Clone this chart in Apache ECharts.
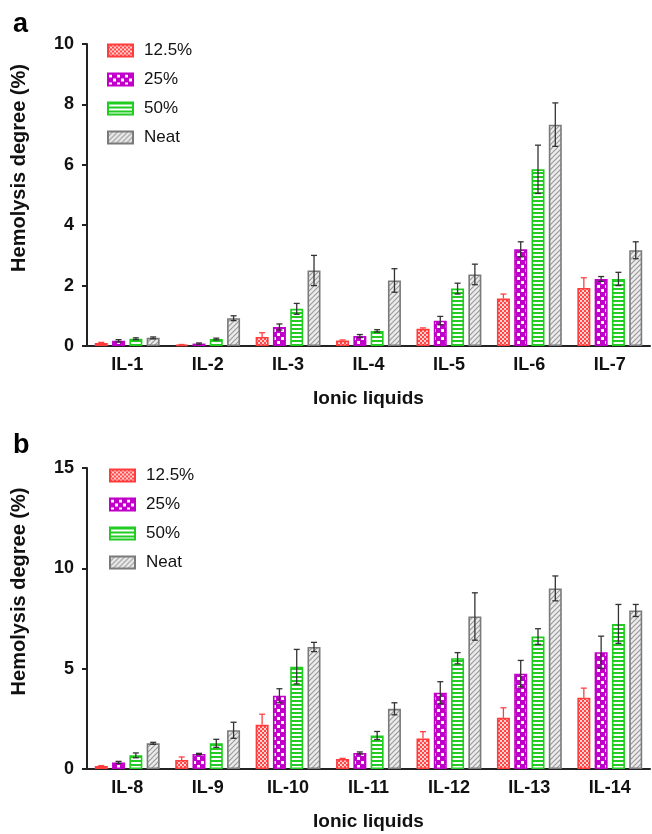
<!DOCTYPE html>
<html>
<head>
<meta charset="utf-8">
<style>
  html, body { margin: 0; padding: 0; background: #fff; }
  #chart { width: 652px; height: 834px; }
</style>
<script src="https://cdn.jsdelivr.net/npm/echarts@6/dist/echarts.min.js"></script>
</head>
<body>
<div id="chart"></div>
<script>
'use strict';

var seriesNames = ['12.5%', '25%', '50%', 'Neat'];

// panel a
var aCategories = ['IL-1', 'IL-2', 'IL-3', 'IL-4', 'IL-5', 'IL-6', 'IL-7'];
var a125 = [0.10, 0.04, 0.30, 0.18, 0.57, 1.57, 1.92];
var a25 = [0.17, 0.08, 0.63, 0.33, 0.84, 3.20, 2.22];
var a50 = [0.24, 0.23, 1.23, 0.50, 1.90, 5.85, 2.22];
var aNeat = [0.27, 0.92, 2.50, 2.17, 2.37, 7.33, 3.17];
var aErr125 = [0.02, 0.01, 0.14, 0.02, 0.03, 0.15, 0.34];
var aErr25 = [0.04, 0.02, 0.10, 0.05, 0.14, 0.25, 0.08];
var aErr50 = [0.03, 0.03, 0.18, 0.04, 0.18, 0.80, 0.22];
var aErrNeat = [0.03, 0.08, 0.50, 0.39, 0.34, 0.72, 0.28];

// panel b
var bCategories = ['IL-8', 'IL-9', 'IL-10', 'IL-11', 'IL-12', 'IL-13', 'IL-14'];
var b125 = [0.15, 0.45, 2.20, 0.50, 1.52, 2.55, 3.55];
var b25 = [0.33, 0.75, 3.65, 0.80, 3.80, 4.75, 5.82];
var b50 = [0.68, 1.28, 5.10, 1.67, 5.52, 6.60, 7.23];
var bNeat = [1.28, 1.93, 6.08, 3.00, 7.60, 9.00, 7.90];
var bErr125 = [0.02, 0.15, 0.53, 0.03, 0.34, 0.50, 0.48];
var bErr25 = [0.05, 0.03, 0.35, 0.05, 0.55, 0.66, 0.80];
var bErr50 = [0.12, 0.20, 0.86, 0.20, 0.28, 0.39, 0.97];
var bErrNeat = [0.05, 0.40, 0.23, 0.30, 1.18, 0.62, 0.30];

var FONT = '"Liberation Sans", Arial, sans-serif';
var BAR_W = 13;
var BAR_STEP = 17.3;

var lineColors = ['#ff3b3b', '#c000c8', '#1fcc1f', '#7a7a7a'];

function makePattern(kind) {
  var c = document.createElement('canvas');
  var ctx;
  if (kind === 0) {
    // fine red checker
    c.width = 4; c.height = 4;
    ctx = c.getContext('2d');
    ctx.fillStyle = '#ff4545';
    ctx.fillRect(0, 0, 4, 4);
    ctx.fillStyle = '#ffd0d0';
    ctx.fillRect(0, 0, 2, 2);
    ctx.fillRect(2, 2, 2, 2);
  } else if (kind === 1) {
    // big purple checker
    c.width = 8; c.height = 8;
    ctx = c.getContext('2d');
    ctx.fillStyle = '#c000c8';
    ctx.fillRect(0, 0, 8, 8);
    ctx.fillStyle = '#ffffff';
    ctx.fillRect(1, 1, 3, 3);
    ctx.fillRect(5, 5, 3, 3);
  } else if (kind === 2) {
    // horizontal green stripes
    c.width = 4; c.height = 4;
    ctx = c.getContext('2d');
    ctx.fillStyle = '#ffffff';
    ctx.fillRect(0, 0, 4, 4);
    ctx.fillStyle = '#22cc22';
    ctx.fillRect(0, 0, 4, 2);
  } else {
    // grey diagonal hatch
    c.width = 5; c.height = 5;
    ctx = c.getContext('2d');
    ctx.fillStyle = '#ececec';
    ctx.fillRect(0, 0, 5, 5);
    ctx.strokeStyle = '#9a9a9a';
    ctx.lineWidth = 1.2;
    ctx.beginPath();
    ctx.moveTo(-1, 6); ctx.lineTo(6, -1);
    ctx.moveTo(-1, 1); ctx.lineTo(1, -1);
    ctx.moveTo(4, 6); ctx.lineTo(6, 4);
    ctx.stroke();
  }
  return { image: c, repeat: 'repeat' };
}

var patterns = [makePattern(0), makePattern(1), makePattern(2), makePattern(3)];

function errorBar(idx) {
  return function (params, api) {
    var cat = api.value(0);
    var v = api.value(1);
    var e = api.value(2);
    var x = api.coord([cat, 0])[0] + (idx - 1.5) * BAR_STEP;
    var yTop = api.coord([cat, v + e])[1];
    var yBot = api.coord([cat, idx === 0 ? v : v - e])[1];
    var color = idx === 0 ? '#ff4040' : '#333';
    var style = { stroke: color, lineWidth: 1.3 };
    var children = [
      { type: 'line', shape: { x1: x, y1: yTop, x2: x, y2: yBot }, style: style },
      { type: 'line', shape: { x1: x - 3, y1: yTop, x2: x + 3, y2: yTop }, style: style },
    ];
    if (idx !== 0) {
      children.push({ type: 'line', shape: { x1: x - 3, y1: yBot, x2: x + 3, y2: yBot }, style: style });
    }
    return { type: 'group', children: children };
  };
}

var panels = [
  { values: [a125, a25, a50, aNeat], errs: [aErr125, aErr25, aErr50, aErrNeat] },
  { values: [b125, b25, b50, bNeat], errs: [bErr125, bErr25, bErr50, bErrNeat] },
];

var series = [];
panels.forEach(function (p, pi) {
  p.values.forEach(function (vals, si) {
    series.push({
      name: seriesNames[si],
      type: 'bar',
      xAxisIndex: pi,
      yAxisIndex: pi,
      barWidth: BAR_W,
      barGap: '33%',
      data: vals,
      itemStyle: {
        color: patterns[si],
        borderColor: lineColors[si],
        borderWidth: 1.6,
      },
      emphasis: { disabled: true },
    });
  });
  p.values.forEach(function (vals, si) {
    series.push({
      name: seriesNames[si] + ' err',
      type: 'custom',
      xAxisIndex: pi,
      yAxisIndex: pi,
      renderItem: errorBar(si),
      z: 5,
      data: vals.map(function (v, i) { return [i, v, p.errs[si][i]]; }),
    });
  });
});

function xAxis(cats, gi) {
  return {
    type: 'category',
    gridIndex: gi,
    data: cats,
    name: 'Ionic liquids',
    nameLocation: 'middle',
    nameGap: 43,
    nameTextStyle: { fontFamily: FONT, fontSize: 19, fontWeight: 'bold', color: '#111' },
    axisLine: { lineStyle: { color: '#222', width: 2 } },
    axisTick: { alignWithLabel: true, length: 5, lineStyle: { color: '#222', width: 2 } },
    axisLabel: { fontFamily: FONT, fontSize: 18, fontWeight: 'bold', color: '#111', margin: 10 },
  };
}

function yAxis(max, interval, gi) {
  return {
    type: 'value',
    gridIndex: gi,
    min: 0,
    max: max,
    interval: interval,
    name: 'Hemolysis degree (%)',
    nameLocation: 'middle',
    nameGap: 58,
    nameTextStyle: { fontFamily: FONT, fontSize: 20, fontWeight: 'bold', color: '#111', padding: [0, 0, 0, 54] },
    splitLine: { show: false },
    axisLine: { show: true, lineStyle: { color: '#222', width: 2 } },
    axisTick: { show: true, length: 5, lineStyle: { color: '#222', width: 2 } },
    axisLabel: { fontFamily: FONT, fontSize: 18, fontWeight: 'bold', color: '#111', margin: 13 },
  };
}

function legend(left, top) {
  return {
    orient: 'vertical',
    left: left,
    top: top,
    icon: 'rect',
    itemWidth: 25,
    itemHeight: 12,
    itemGap: 12,
    padding: 0,
    data: seriesNames,
    textStyle: { fontFamily: FONT, fontSize: 17, color: '#111', padding: [0, 0, 0, 6] },
  };
}

var chart = echarts.init(document.getElementById('chart'));
chart.setOption({
  animation: false,
  backgroundColor: '#fff',
  title: [
    { text: 'a', left: 8, top: 6, textStyle: { fontFamily: FONT, fontSize: 27, fontWeight: 'bold', color: '#000' } },
    { text: 'b', left: 8, top: 427, textStyle: { fontFamily: FONT, fontSize: 27, fontWeight: 'bold', color: '#000' } },
  ],
  legend: [legend(107, 42), legend(109, 467)],
  grid: [
    { left: 87, right: 2, top: 44, height: 302 },
    { left: 87, right: 2, top: 468, height: 301 },
  ],
  xAxis: [xAxis(aCategories, 0), xAxis(bCategories, 1)],
  yAxis: [yAxis(10, 2, 0), yAxis(15, 5, 1)],
  series: series,
});
</script>
</body>
</html>
